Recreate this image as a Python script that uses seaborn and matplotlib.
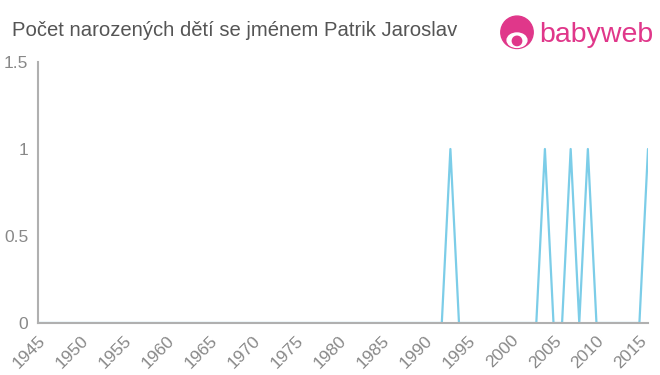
import matplotlib
matplotlib.use("Agg")
import matplotlib.pyplot as plt
import seaborn as sns
import pandas as pd
from matplotlib.patches import Circle, Ellipse

years = list(range(1945, 2017))
peak_years = [1993, 2004, 2007, 2009, 2016]
counts = [1 if y in peak_years else 0 for y in years]
x_ticks = list(range(1945, 2016, 5))
y_ticks = [0, 0.5, 1, 1.5]
y_labels = ["0", "0.5", "1", "1.5"]
title = "Počet narozených dětí se jménem Patrik Jaroslav"

df = pd.DataFrame({"year": years, "count": counts})

sns.set_style("white")
plt.rcParams['font.family'] = ['Liberation Sans', 'DejaVu Sans']
fig = plt.figure(figsize=(6.6, 3.75), dpi=100)
ax = fig.add_axes([38/660, 1-323/375, (648-38)/660, (323-62)/375])

sns.lineplot(data=df, x="year", y="count", ax=ax, color="#7ccde8", linewidth=1.6)

ax.set_xlim(1945, 2016)
ax.set_ylim(0, 1.5)
ax.set_xticks(x_ticks)
ax.set_xticklabels([str(t) for t in x_ticks], rotation=45, ha="right", rotation_mode="anchor")
ax.set_yticks(y_ticks)
ax.set_yticklabels(y_labels)
ax.set_xlabel("")
ax.set_ylabel("")
for s in ["top", "right"]:
    ax.spines[s].set_visible(False)
for s in ["left", "bottom"]:
    ax.spines[s].set_color("#b0b0b0")
    ax.spines[s].set_linewidth(1.5)
ax.tick_params(axis="both", colors="#b0b0b0", labelcolor="#888888", labelsize=12.5, length=5, width=1.2, direction="out")
ax.tick_params(axis="x", pad=2)
ax.tick_params(axis="y", pad=2)

fig.text(12/660, 1-30/375, title, fontsize=14.6, color="#555555", va="center", ha="left")

# logo
pink = "#e0378a"
lax = fig.add_axes([499/660, 1-51/375, 36/660, 36/375])
lax.set_xlim(0, 1); lax.set_ylim(0, 1); lax.axis("off"); lax.set_aspect("equal")
lax.add_patch(Circle((0.5, 0.52), 0.45, color=pink))
lax.add_patch(Ellipse((0.5, 0.3), 0.55, 0.4, color="white"))
lax.add_patch(Circle((0.5, 0.28), 0.13, color=pink))
fig.text(539/660, 1-35/375, "babyweb", fontsize=20.5, color=pink, va="center", ha="left")

fig.savefig("out.png", dpi=100)
